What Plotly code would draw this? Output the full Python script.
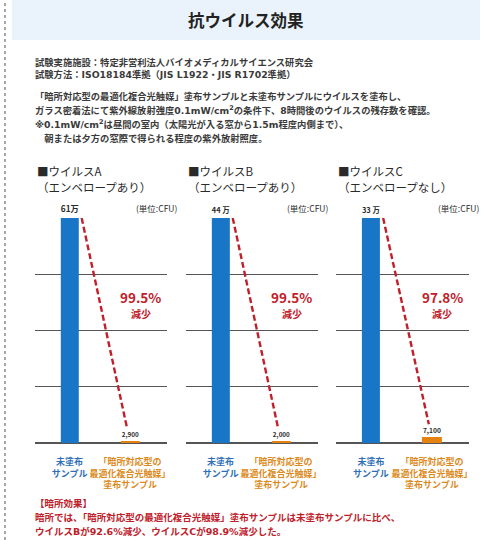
import plotly.graph_objects as go

# ---- data ----
viruses = ["ウイルスA", "ウイルスB", "ウイルスC"]
envelope = ["（エンベロープあり）", "（エンベロープあり）", "（エンベロープなし）"]
uncoated = [610000, 440000, 330000]
coated = [2900, 2000, 7100]
uncoated_labels = ["61万", "44 万", "33 万"]
coated_labels = ["2,900", "2,000", "7,100"]
reduction = ["99.5%", "99.5%", "97.8%"]
categories = ["未塗布<br>サンプル", "「暗所対応型の<br>最適化複合光触媒」<br>塗布サンプル"]
unit_label = "(単位:CFU)"

title = "抗ウイルス効果"
intro_lines = [
    "試験実施施設：特定非営利法人バイオメディカルサイエンス研究会",
    "試験方法：ISO18184準拠（JIS L1922・JIS R1702準拠）",
    "「暗所対応型の最適化複合光触媒」塗布サンプルと未塗布サンプルにウイルスを塗布し、",
    "ガラス密着法にて紫外線放射強度0.1mW/cm<sup>2</sup>の条件下、8時間後のウイルスの残存数を確認。",
    "※0.1mW/cm<sup>2</sup>は昼間の室内（太陽光が入る窓から1.5m程度内側まで）、",
    "　朝または夕方の窓際で得られる程度の紫外放射照度。",
]
footer_lines = [
    "【暗所効果】",
    "暗所では、「暗所対応型の最適化複合光触媒」塗布サンプルは未塗布サンプルに比べ、",
    "ウイルスBが92.6%減少、ウイルスCが98.9%減少した。",
]

# ---- style ----
W, H = 483, 540
FONT = "Noto Sans CJK JP"
MIXED = "DejaVu Sans, Noto Sans CJK JP"
BLUE = "#1976c6"
ORANGE = "#e5820f"
BLUE_TXT = "#2f6fb5"
ORANGE_TXT = "#dc8a1c"
RED = "#c0202a"
GRID = "#555555"
TXT = "#2a2a2a"

def py(p):
    return 1 - p / H

panel_x = [(35, 168), (187, 320), (338, 472)]
y_dom = [py(443), py(218)]

fig = go.Figure()
shapes = []
annotations = []

for i in range(3):
    ax = "" if i == 0 else str(i + 1)
    xname, yname = "x" + ax, "y" + ax
    fig.add_trace(go.Bar(
        x=[0, 1], y=[uncoated[i], coated[i]],
        xaxis=xname, yaxis=yname,
        width=0.29,
        marker=dict(color=[BLUE, ORANGE], line=dict(color=[BLUE, ORANGE], width=[0, 2])),
        text=[f"<b>{uncoated_labels[i]}</b>", f"<b>{coated_labels[i]}</b>"],
        textposition="outside", cliponaxis=False,
        textfont=dict(family=FONT, size=9, color=TXT),
        hoverinfo="skip", showlegend=False,
    ))
    x0, x1 = panel_x[i]
    top = uncoated[i]
    fig.layout["xaxis" + ax] = dict(
        domain=[x0 / W, x1 / W], range=[-0.575, 1.61], anchor=yname,
        tickvals=[0, 1], tickangle=0, ticklabelstandoff=12,
        ticktext=[f"<span style='color:{BLUE_TXT}'><b>{categories[0]}</b></span>",
                  f"<span style='color:{ORANGE_TXT}'><b>{categories[1]}</b></span>"],
        tickfont=dict(family=FONT, size=9), showgrid=False, zeroline=False,
        showline=False, ticks="", fixedrange=True,
    )
    fig.layout["yaxis" + ax] = dict(
        domain=y_dom, range=[0, top], anchor=xname,
        tickvals=[top * k / 4 for k in range(5)], showticklabels=False,
        showgrid=True, gridcolor=GRID, gridwidth=1,
        zeroline=True, zerolinecolor=GRID, zerolinewidth=2,
        showline=False, ticks="", fixedrange=True,
    )
    # dashed reduction arrow
    y_end = coated[i] + 0.062 * top
    shapes.append(dict(type="line", xref=xname, yref=yname,
                       x0=0.2, y0=top, x1=0.95, y1=y_end,
                       line=dict(color=RED, width=2.4, dash="6px,3px")))
    annotations.append(dict(xref=xname, yref=yname, x=0.95, y=y_end,
                            axref=xname, ayref=yname, ax=0.935, ay=y_end + 0.02 * top,
                            showarrow=True, arrowhead=4, arrowsize=1.1, arrowwidth=2.4,
                            arrowcolor=RED, text=""))
    # reduction text
    annotations.append(dict(xref=xname + " domain", yref=yname + " domain",
                            x=0.80, y=(443 - 297) / 225, xanchor="center", yanchor="middle",
                            text=f"<b>{reduction[i]}</b>",
                            showarrow=False, font=dict(family=FONT, size=13.5, color=RED)))
    annotations.append(dict(xref=xname + " domain", yref=yname + " domain",
                            x=0.80, y=(443 - 313) / 225, xanchor="center", yanchor="middle",
                            text="<b>減少</b>",
                            showarrow=False, font=dict(family=FONT, size=10, color=RED)))
    # headings
    annotations.append(dict(xref="paper", yref="paper", x=x0 / W, y=py(171),
                            xanchor="left", yanchor="middle", showarrow=False,
                            text="■" + viruses[i], font=dict(family=FONT, size=11.5, color=TXT)))
    annotations.append(dict(xref="paper", yref="paper", x=x0 / W, y=py(187),
                            xanchor="left", yanchor="middle", showarrow=False,
                            text=envelope[i], font=dict(family=FONT, size=11.5, color=TXT)))
    annotations.append(dict(xref="paper", yref="paper", x=(x1 + 12) / W, y=py(208),
                            xanchor="right", yanchor="middle", showarrow=False,
                            text=unit_label, font=dict(family=FONT, size=8.5, color=TXT)))

# header band and title
shapes.append(dict(type="rect", xref="paper", yref="paper", x0=12 / W, x1=1, y0=py(40), y1=1,
                   fillcolor="#eaf3fb", line=dict(width=0), layer="below"))
shapes.append(dict(type="line", xref="paper", yref="paper", x0=5 / W, x1=5 / W, y0=0, y1=1,
                   line=dict(color="#8a8a8a", width=1.5, dash="dot")))
annotations.append(dict(xref="paper", yref="paper", x=248 / W, y=py(20),
                        xanchor="center", yanchor="middle", showarrow=False,
                        text=f"<b>{title}</b>", font=dict(family=FONT, size=16.5, color="#222222")))

intro_y = [62, 75, 96, 110, 124, 138]
for line, yy in zip(intro_lines, intro_y):
    annotations.append(dict(xref="paper", yref="paper", x=33 / W, y=py(yy),
                            xanchor="left", yanchor="middle", showarrow=False,
                            text=f"<b>{line}</b>",
                            font=dict(family=MIXED, size=9.3, color="#3a3a3a")))

footer_y = [503, 517, 531]
for line, yy in zip(footer_lines, footer_y):
    annotations.append(dict(xref="paper", yref="paper", x=33 / W, y=py(yy),
                            xanchor="left", yanchor="middle", showarrow=False,
                            text=f"<b>{line}</b>",
                            font=dict(family=MIXED, size=9.5, color=RED)))

fig.update_layout(
    width=W, height=H, autosize=False,
    margin=dict(l=0, r=0, t=0, b=0),
    paper_bgcolor="white", plot_bgcolor="white",
    shapes=shapes, annotations=annotations,
    font=dict(family=FONT), bargap=0,
)

fig.write_html("out.html", config={"displayModeBar": False},
               post_script="document.body.style.margin='0';document.body.style.padding='0';")
